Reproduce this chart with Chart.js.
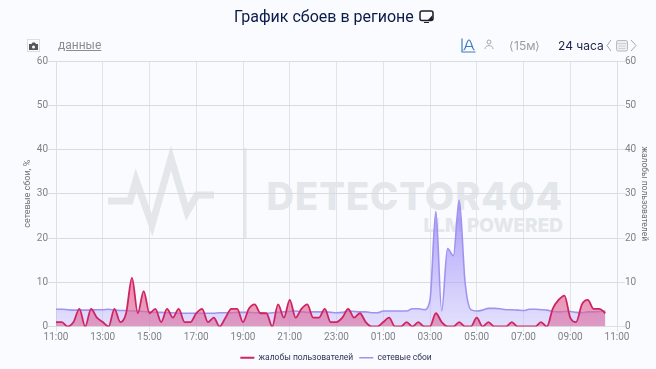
<!DOCTYPE html>
<html>
<head>
<meta charset="utf-8">
<script src="https://cdn.jsdelivr.net/npm/chart.js@4"></script>
<style>
  html, body { margin: 0; padding: 0; background: #f9fbfe; }
  #page { position: relative; width: 656px; height: 369px; overflow: hidden; font-family: Roboto, sans-serif; }
  #page > * { position: absolute; }
  #mark { left: 0; top: 0; }
  #mycanvas { left: 0; top: 0; }
  #title { left: 234px; top: 6px; font-size: 16px; line-height: 22px; color: #0c1a4a; white-space: nowrap; }
  #data { left: 58px; top: 37px; font-size: 12px; line-height: 17px; color: #8a8d94; text-decoration: underline; }
  #gran { left: 509px; top: 38px; font-size: 12px; line-height: 15px; color: #9a9da5; font-family: Inter, sans-serif; }
  #range { left: 558px; top: 38px; font-size: 12px; line-height: 15px; color: #1c2547; font-family: Inter, sans-serif; }
</style>
</head>
<body>
<div id="page">
  <svg id="mark" width="656" height="369">
    <polyline points="108,201 130,201 136,180 152,225 171,158 187,212 197,195 214,195" fill="none" stroke="#e3e6ea" stroke-width="7"/>
    <rect x="243.500" y="148" width="3" height="91" fill="#e3e6ea"/>
    <text x="563" y="210" text-anchor="end" font-family="Inter" font-weight="800" font-size="38" letter-spacing="1" fill="#e3e6ea">DETECTOR404</text>
    <text x="563" y="232" text-anchor="end" font-family="Inter" font-weight="800" font-size="19" fill="#e3e6ea">LLM POWERED</text>
  </svg>
  <canvas id="mycanvas" width="656" height="369"></canvas>
  <div id="title">График сбоев в регионе</div>
  <svg style="left:419px;top:10px" width="15" height="14" viewBox="0 0 15 14">
    <rect x="1" y="1" width="13" height="9.500" rx="2" fill="none" stroke="#1b1f2c" stroke-width="1.500"/>
    <path d="M9 10 L13.500 10 L13.500 5 Z M5 12 H10 V13 H5 Z" fill="#1b1f2c"/>
  </svg>
  <svg style="left:27px;top:39px" width="13" height="13" viewBox="0 0 13 13">
    <rect x="0.500" y="0.500" width="12" height="12" fill="none" stroke="#dcdde0"/>
    <path d="M2 5 H4.500 L5.500 3.500 H8 L9 5 H11 V11 H2 Z" fill="#54575e"/>
    <circle cx="6.500" cy="8" r="1.500" fill="#f9fbfe"/>
  </svg>
  <div id="data">данные</div>
  <svg style="left:461px;top:38px" width="15" height="15" viewBox="0 0 15 15">
    <path d="M1 0.500 V14 H14.500 M2.500 12 C5 12 5.500 2 8 2 C10.500 2 11 12 13.500 12 M4 8.500 H12" fill="none" stroke="#3f7cc2" stroke-width="1.200"/>
  </svg>
  <svg style="left:484px;top:39px" width="10" height="11" viewBox="0 0 10 11">
    <circle cx="5" cy="3" r="2" fill="none" stroke="#a4a7ad"/>
    <path d="M1 10 C1 5.500 9 5.500 9 10" fill="none" stroke="#a4a7ad"/>
  </svg>
  <div id="gran">⟨15м⟩</div>
  <div id="range">24 часа</div>
  <svg style="left:606px;top:39px" width="32" height="13" viewBox="0 0 32 13">
    <path d="M5 1 L1 6.500 L5 12 M25 1 L30 6.500 L25 12" fill="none" stroke="#a4a7ad"/>
    <rect x="10.500" y="1.500" width="11" height="10.500" rx="1.500" fill="#eceef1" stroke="#b8bac0"/>
    <path d="M10.500 4.500 H21.500 M12.500 7 H19.500 M12.500 9.500 H19.500" stroke="#cfd1d5"/>
  </svg>
</div>
<script>
var times = [
  "11:00","11:15","11:30","11:45","12:00","12:15","12:30","12:45",
  "13:00","13:15","13:30","13:45","14:00","14:15","14:30","14:45",
  "15:00","15:15","15:30","15:45","16:00","16:15","16:30","16:45",
  "17:00","17:15","17:30","17:45","18:00","18:15","18:30","18:45",
  "19:00","19:15","19:30","19:45","20:00","20:15","20:30","20:45",
  "21:00","21:15","21:30","21:45","22:00","22:15","22:30","22:45",
  "23:00","23:15","23:30","23:45","00:00","00:15","00:30","00:45",
  "01:00","01:15","01:30","01:45","02:00","02:15","02:30","02:45",
  "03:00","03:15","03:30","03:45","04:00","04:15","04:30","04:45",
  "05:00","05:15","05:30","05:45","06:00","06:15","06:30","06:45",
  "07:00","07:15","07:30","07:45","08:00","08:15","08:30","08:45",
  "09:00","09:15","09:30","09:45","10:00","10:15","10:30","10:45",
  "11:00"
];

var complaints = [
  1,1,0,1,4,0,4,2,1,0,4,1,3,11,3,8,3,4,1,4,2,4,1,1,
  3,4,1,2,0,2,4,4,1,4,5,3,3,0,5,2,6,2,4,5,2,2,4,1,
  1,2,4,2,3,1,0,0,1,2,0,0,1,0,1,0,0,3,1,0,0,1,0,0,
  2,0,1,0,0,0,1,0,0,0,0,1,0,4,6,7,2,1,5,6,4,4,3
];

var outages = [
  3.9,3.9,3.8,3.7,3.7,3.7,3.7,3.8,3.8,3.9,3.7,3.6,3.6,3.5,3.5,3.4,3.3,
  3.2,3.2,3.1,3.1,3.0,3.0,3.0,
  3.0,3.0,3.0,3.0,3.1,3.1,3.1,3.2,3.2,3.2,3.1,3.1,3.0,3.1,3.2,3.3,3.4,3.5,3.3,3.2,3.3,3.3,3.3,3.2,
  3.1,3.2,3.5,3.4,3.3,3.3,3.1,3.1,3.5,3.5,3.5,3.5,3.5,4.0,4.0,3.8,
  6,26,3.5,17.6,16,28.6,10,3.8,
  3.5,3.7,4.1,4.1,4.0,3.8,3.8,3.7,3.6,3.9,3.9,3.8,3.7,3.4,3.3,3.4,3.4,3.2,3.1,3.3,3.3,3.4,3.5
];

// area fill fades out towards the zero line
function fade(top, bottom, from) {
  return function(ctx) {
    var chart = ctx.chart;
    if (!chart.chartArea) return bottom;
    var y = chart.scales.y;
    var g = chart.ctx.createLinearGradient(0, y.getPixelForValue(from), 0, y.getPixelForValue(0));
    g.addColorStop(0, top);
    g.addColorStop(1, bottom);
    return g;
  };
}

// legend sits on the plot centre, not the page centre, and a bit lower
var legendShift = {
  id: "legendShift",
  afterLayout: function(chart) {
    chart.legend.left += 8;
    chart.legend.right += 8;
    chart.legend.top += 3;
    chart.legend.bottom += 3;
  }
};

var tickColor = "#7f828a";

var barGraph = new Chart(document.getElementById("mycanvas"), {
  type: "line",
  plugins: [legendShift],
  data: {
    labels: times,
    datasets: [
      {
        label: "жалобы пользователей",
        data: complaints,
        yAxisID: "y1",
        borderColor: "#d0245f",
        borderWidth: 1.800,
        backgroundColor: fade("rgba(240,90,135,0.7)", "rgba(215,110,160,0.6)", 11),
        fill: "origin",
        cubicInterpolationMode: "monotone",
        pointRadius: 0
      },
      {
        label: "сетевые сбои",
        data: outages,
        yAxisID: "y",
        borderColor: "#a092f0",
        borderWidth: 1.600,
        backgroundColor: fade("rgba(140,120,245,0.8)", "rgba(190,180,252,0.4)", 30),
        fill: "origin",
        cubicInterpolationMode: "monotone",
        pointRadius: 0
      }
    ]
  },
  options: {
    responsive: false,
    animation: false,
    layout: { padding: { top: 61, bottom: 0 } },
    plugins: {
      legend: {
        position: "bottom",
        labels: {
          usePointStyle: true,
          pointStyle: "line",
          pointStyleWidth: 14,
          padding: 6,
          color: "#2f3658",
          font: { family: "Roboto", size: 8.5 }
        }
      }
    },
    scales: {
      x: {
        offset: false,
        afterBuildTicks: function(s) {
          s.ticks = s.ticks.filter(function(t) { return t.value % 8 === 0; });
        },
        afterFit: function(s) { s.height = 18; },
        grid: { color: "#e2e4e8", tickLength: 5 },
        border: { color: "#dcdfe3" },
        ticks: {
          autoSkip: false,
          maxRotation: 0,
          padding: 0,
          color: tickColor,
          font: { family: "Roboto", size: 10 },
          callback: function(v) { return this.getLabelForValue(v); }
        }
      },
      y: {
        position: "left",
        min: 0,
        max: 60,
        afterFit: function(s) { s.width = 56; },
        grid: { color: "#d8dbe0" },
        border: { color: "#dcdfe3" },
        title: { display: true, text: "сетевые сбои, %", color: "#6d7078", font: { family: "Roboto", size: 9 }, padding: { top: 22, bottom: 0 } },
        ticks: { stepSize: 10, padding: 0, color: tickColor, font: { family: "Roboto", size: 10 } }
      },
      y1: {
        position: "right",
        min: 0,
        max: 60,
        afterFit: function(s) { s.width = 39; },
        grid: { drawOnChartArea: false },
        border: { color: "#dcdfe3" },
        title: { display: true, text: "жалобы пользователей", color: "#6d7078", font: { family: "Roboto", size: 8.5 }, padding: { top: 7, bottom: 0 } },
        ticks: { stepSize: 10, padding: 0, color: tickColor, font: { family: "Roboto", size: 10 } }
      }
    }
  }
});
</script>
</body>
</html>
